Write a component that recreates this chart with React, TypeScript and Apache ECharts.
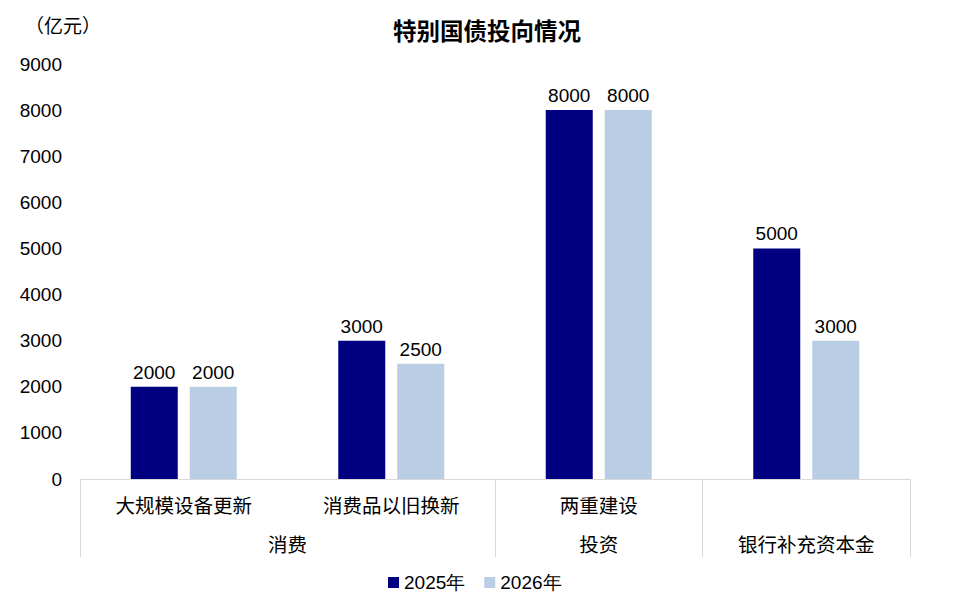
import React, { useEffect, useRef } from "react";
import * as echarts from "echarts";

const categories = ["大规模设备更新", "消费品以旧换新", "两重建设", ""];
const groupSlots = ["", "", "消费", "", "", "投资", "", "银行补充资本金", ""];
const groupTickIdx = [0, 4, 6, 8];
const series2025 = [2000, 3000, 8000, 5000];
const series2026 = [2000, 2500, 8000, 3000];
const seriesNames = ["2025年", "2026年"];

const NUM_FONT = "'Liberation Sans', Arial, sans-serif";
const CJK_FONT = "'Noto Sans CJK SC', 'Liberation Sans', sans-serif";

export default function App() {
  const ref = useRef<HTMLDivElement>(null);
  useEffect(() => {
    if (!ref.current) return;
    const chart = echarts.init(ref.current, null, { renderer: "svg" });
    const labelStyle = {
      show: true,
      position: "top",
      distance: 5,
      color: "#000",
      fontSize: 19,
      fontFamily: NUM_FONT,
    };
    chart.setOption({
      animation: false,
      backgroundColor: "#fff",
      title: {
        text: "特别国债投向情况",
        left: 380,
        top: 5,
        textStyle: { fontSize: 23.5, fontWeight: "bold", color: "#000", fontFamily: CJK_FONT },
      },
      graphic: [
        {
          type: "text",
          left: 17,
          top: 7,
          style: { text: "（亿元）", fill: "#000", font: `19px ${CJK_FONT}` },
        },
      ],
      legend: {
        top: 560,
        left: 375,
        itemWidth: 11,
        itemHeight: 11,
        itemGap: 19,
        icon: "rect",
        textStyle: { fontSize: 19, color: "#000", fontFamily: NUM_FONT },
        data: seriesNames,
      },
      grid: { left: 72, right: 40, top: 56, bottom: 124, containLabel: false },
      xAxis: [
        {
          type: "category",
          data: categories,
          axisLine: { show: true, lineStyle: { color: "#d9d9d9", width: 1 } },
          axisTick: { show: false },
          axisLabel: {
            interval: 0,
            margin: 16,
            fontSize: 19.5,
            color: "#000",
            fontFamily: CJK_FONT,
          },
        },
        {
          type: "category",
          position: "bottom",
          data: groupSlots,
          boundaryGap: false,
          axisLine: { show: false },
          axisTick: {
            show: true,
            length: 78,
            interval: (index: number) => groupTickIdx.includes(index),
            lineStyle: { color: "#d9d9d9", width: 1 },
          },
          axisLabel: {
            interval: 0,
            margin: 55,
            fontSize: 19.5,
            color: "#000",
            fontFamily: CJK_FONT,
          },
          splitLine: { show: false },
        },
      ],
      yAxis: {
        type: "value",
        min: 0,
        max: 9000,
        interval: 1000,
        splitLine: { show: false },
        axisLine: { show: false },
        axisTick: { show: false },
        axisLabel: {
          margin: 18,
          fontSize: 19,
          color: "#000",
          fontFamily: NUM_FONT,
          formatter: (v: number) => String(v),
        },
      },
      series: [
        {
          name: seriesNames[0],
          type: "bar",
          xAxisIndex: 0,
          data: series2025,
          barWidth: 47,
          barGap: "25.5%",
          itemStyle: { color: "#000080" },
          label: labelStyle,
        },
        {
          name: seriesNames[1],
          type: "bar",
          xAxisIndex: 0,
          data: series2026,
          barWidth: 47,
          barGap: "25.5%",
          itemStyle: { color: "#B9CDE5" },
          label: labelStyle,
        },
      ],
    });
    return () => chart.dispose();
  }, []);
  return <div ref={ref} style={{ width: 942, height: 595 }} />;
}
